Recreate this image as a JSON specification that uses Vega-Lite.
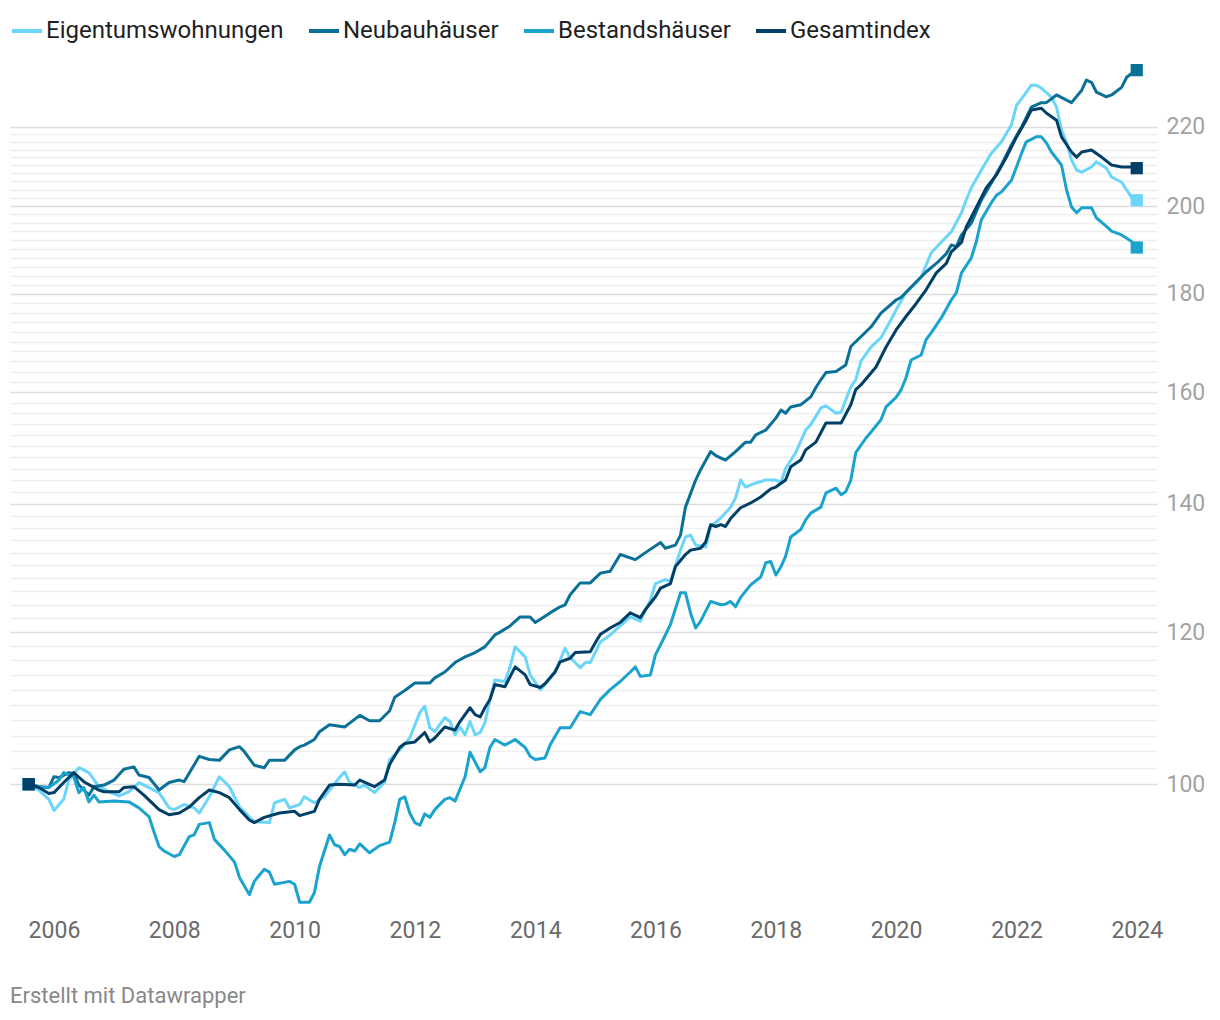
{
"$schema": "https://vega.github.io/schema/vega-lite/v6.json",
"width": 1147, "height": 856,
"autosize": "none",
"padding": {"left": 10, "top": 54, "right": 63, "bottom": 110},
"background": "white",
"config": {"font": "Roboto", "view": {"stroke": null}},
"title": {"text": "Erstellt mit Datawrapper", "orient": "bottom", "anchor": "start", "frame": "group", "fontSize": 22, "fontWeight": "normal", "color": "#888888", "offset": 44, "baseline": "top"},
"data": {"values": [
{"series":"Eigentumswohnungen","date":"2005-08-01","value":100.0},
{"series":"Eigentumswohnungen","date":"2005-10-01","value":99.3},
{"series":"Eigentumswohnungen","date":"2005-12-01","value":98.2},
{"series":"Eigentumswohnungen","date":"2006-01-01","value":96.9},
{"series":"Eigentumswohnungen","date":"2006-03-01","value":98.2},
{"series":"Eigentumswohnungen","date":"2006-04-01","value":100.5},
{"series":"Eigentumswohnungen","date":"2006-06-01","value":102.0},
{"series":"Eigentumswohnungen","date":"2006-08-01","value":101.4},
{"series":"Eigentumswohnungen","date":"2006-10-01","value":99.7},
{"series":"Eigentumswohnungen","date":"2006-12-01","value":99.1},
{"series":"Eigentumswohnungen","date":"2007-02-01","value":98.6},
{"series":"Eigentumswohnungen","date":"2007-04-01","value":99.1},
{"series":"Eigentumswohnungen","date":"2007-06-01","value":100.2},
{"series":"Eigentumswohnungen","date":"2007-08-01","value":99.6},
{"series":"Eigentumswohnungen","date":"2007-10-01","value":99.0},
{"series":"Eigentumswohnungen","date":"2007-12-01","value":97.2},
{"series":"Eigentumswohnungen","date":"2008-01-01","value":97.0},
{"series":"Eigentumswohnungen","date":"2008-03-01","value":97.6},
{"series":"Eigentumswohnungen","date":"2008-05-01","value":97.2},
{"series":"Eigentumswohnungen","date":"2008-06-01","value":96.6},
{"series":"Eigentumswohnungen","date":"2008-08-01","value":98.5},
{"series":"Eigentumswohnungen","date":"2008-10-01","value":100.9},
{"series":"Eigentumswohnungen","date":"2008-12-01","value":99.7},
{"series":"Eigentumswohnungen","date":"2009-02-01","value":97.3},
{"series":"Eigentumswohnungen","date":"2009-05-01","value":95.6},
{"series":"Eigentumswohnungen","date":"2009-08-01","value":95.5},
{"series":"Eigentumswohnungen","date":"2009-09-01","value":97.8},
{"series":"Eigentumswohnungen","date":"2009-11-01","value":98.2},
{"series":"Eigentumswohnungen","date":"2009-12-01","value":97.2},
{"series":"Eigentumswohnungen","date":"2010-02-01","value":97.6},
{"series":"Eigentumswohnungen","date":"2010-03-01","value":98.5},
{"series":"Eigentumswohnungen","date":"2010-05-01","value":97.8},
{"series":"Eigentumswohnungen","date":"2010-07-01","value":98.5},
{"series":"Eigentumswohnungen","date":"2010-08-01","value":99.3},
{"series":"Eigentumswohnungen","date":"2010-10-01","value":100.8},
{"series":"Eigentumswohnungen","date":"2010-11-01","value":101.5},
{"series":"Eigentumswohnungen","date":"2010-12-01","value":100.2},
{"series":"Eigentumswohnungen","date":"2011-02-01","value":99.6},
{"series":"Eigentumswohnungen","date":"2011-03-01","value":99.9},
{"series":"Eigentumswohnungen","date":"2011-05-01","value":99.0},
{"series":"Eigentumswohnungen","date":"2011-07-01","value":100.2},
{"series":"Eigentumswohnungen","date":"2011-08-01","value":103.0},
{"series":"Eigentumswohnungen","date":"2011-10-01","value":104.2},
{"series":"Eigentumswohnungen","date":"2011-12-01","value":105.7},
{"series":"Eigentumswohnungen","date":"2012-02-01","value":109.0},
{"series":"Eigentumswohnungen","date":"2012-03-01","value":109.8},
{"series":"Eigentumswohnungen","date":"2012-04-01","value":107.0},
{"series":"Eigentumswohnungen","date":"2012-05-01","value":106.5},
{"series":"Eigentumswohnungen","date":"2012-07-01","value":108.3},
{"series":"Eigentumswohnungen","date":"2012-08-01","value":107.8},
{"series":"Eigentumswohnungen","date":"2012-09-01","value":106.1},
{"series":"Eigentumswohnungen","date":"2012-10-01","value":107.1},
{"series":"Eigentumswohnungen","date":"2012-11-01","value":106.1},
{"series":"Eigentumswohnungen","date":"2012-12-01","value":107.8},
{"series":"Eigentumswohnungen","date":"2013-01-01","value":106.1},
{"series":"Eigentumswohnungen","date":"2013-02-01","value":106.4},
{"series":"Eigentumswohnungen","date":"2013-03-01","value":107.6},
{"series":"Eigentumswohnungen","date":"2013-04-01","value":110.7},
{"series":"Eigentumswohnungen","date":"2013-05-01","value":113.3},
{"series":"Eigentumswohnungen","date":"2013-07-01","value":113.1},
{"series":"Eigentumswohnungen","date":"2013-08-01","value":115.1},
{"series":"Eigentumswohnungen","date":"2013-09-01","value":117.9},
{"series":"Eigentumswohnungen","date":"2013-11-01","value":116.5},
{"series":"Eigentumswohnungen","date":"2013-12-01","value":114.0},
{"series":"Eigentumswohnungen","date":"2014-02-01","value":112.0},
{"series":"Eigentumswohnungen","date":"2014-03-01","value":112.7},
{"series":"Eigentumswohnungen","date":"2014-05-01","value":114.4},
{"series":"Eigentumswohnungen","date":"2014-07-01","value":117.7},
{"series":"Eigentumswohnungen","date":"2014-08-01","value":116.4},
{"series":"Eigentumswohnungen","date":"2014-10-01","value":115.0},
{"series":"Eigentumswohnungen","date":"2014-11-01","value":115.7},
{"series":"Eigentumswohnungen","date":"2014-12-01","value":115.7},
{"series":"Eigentumswohnungen","date":"2015-02-01","value":118.6},
{"series":"Eigentumswohnungen","date":"2015-04-01","value":119.6},
{"series":"Eigentumswohnungen","date":"2015-06-01","value":120.9},
{"series":"Eigentumswohnungen","date":"2015-08-01","value":122.2},
{"series":"Eigentumswohnungen","date":"2015-10-01","value":121.6},
{"series":"Eigentumswohnungen","date":"2015-12-01","value":124.7},
{"series":"Eigentumswohnungen","date":"2016-01-01","value":127.2},
{"series":"Eigentumswohnungen","date":"2016-03-01","value":127.8},
{"series":"Eigentumswohnungen","date":"2016-04-01","value":127.5},
{"series":"Eigentumswohnungen","date":"2016-06-01","value":132.4},
{"series":"Eigentumswohnungen","date":"2016-07-01","value":134.5},
{"series":"Eigentumswohnungen","date":"2016-08-01","value":134.8},
{"series":"Eigentumswohnungen","date":"2016-09-01","value":133.2},
{"series":"Eigentumswohnungen","date":"2016-11-01","value":132.9},
{"series":"Eigentumswohnungen","date":"2016-12-01","value":136.2},
{"series":"Eigentumswohnungen","date":"2017-02-01","value":137.6},
{"series":"Eigentumswohnungen","date":"2017-04-01","value":139.4},
{"series":"Eigentumswohnungen","date":"2017-05-01","value":140.9},
{"series":"Eigentumswohnungen","date":"2017-06-01","value":144.0},
{"series":"Eigentumswohnungen","date":"2017-07-01","value":142.8},
{"series":"Eigentumswohnungen","date":"2017-09-01","value":143.5},
{"series":"Eigentumswohnungen","date":"2017-11-01","value":144.0},
{"series":"Eigentumswohnungen","date":"2018-01-01","value":144.0},
{"series":"Eigentumswohnungen","date":"2018-02-01","value":143.6},
{"series":"Eigentumswohnungen","date":"2018-03-01","value":146.0},
{"series":"Eigentumswohnungen","date":"2018-05-01","value":148.8},
{"series":"Eigentumswohnungen","date":"2018-07-01","value":152.9},
{"series":"Eigentumswohnungen","date":"2018-08-01","value":153.9},
{"series":"Eigentumswohnungen","date":"2018-10-01","value":157.0},
{"series":"Eigentumswohnungen","date":"2018-11-01","value":157.4},
{"series":"Eigentumswohnungen","date":"2019-01-01","value":156.0},
{"series":"Eigentumswohnungen","date":"2019-02-01","value":156.2},
{"series":"Eigentumswohnungen","date":"2019-03-01","value":158.5},
{"series":"Eigentumswohnungen","date":"2019-04-01","value":161.0},
{"series":"Eigentumswohnungen","date":"2019-05-01","value":162.4},
{"series":"Eigentumswohnungen","date":"2019-06-01","value":166.0},
{"series":"Eigentumswohnungen","date":"2019-08-01","value":168.9},
{"series":"Eigentumswohnungen","date":"2019-10-01","value":170.8},
{"series":"Eigentumswohnungen","date":"2019-12-01","value":174.5},
{"series":"Eigentumswohnungen","date":"2020-01-01","value":176.6},
{"series":"Eigentumswohnungen","date":"2020-03-01","value":180.3},
{"series":"Eigentumswohnungen","date":"2020-05-01","value":182.4},
{"series":"Eigentumswohnungen","date":"2020-06-01","value":183.7},
{"series":"Eigentumswohnungen","date":"2020-08-01","value":189.1},
{"series":"Eigentumswohnungen","date":"2020-10-01","value":191.5},
{"series":"Eigentumswohnungen","date":"2020-12-01","value":193.9},
{"series":"Eigentumswohnungen","date":"2021-02-01","value":198.4},
{"series":"Eigentumswohnungen","date":"2021-03-01","value":201.4},
{"series":"Eigentumswohnungen","date":"2021-04-01","value":204.4},
{"series":"Eigentumswohnungen","date":"2021-06-01","value":208.8},
{"series":"Eigentumswohnungen","date":"2021-08-01","value":213.1},
{"series":"Eigentumswohnungen","date":"2021-10-01","value":216.0},
{"series":"Eigentumswohnungen","date":"2021-12-01","value":220.4},
{"series":"Eigentumswohnungen","date":"2022-01-01","value":225.7},
{"series":"Eigentumswohnungen","date":"2022-03-01","value":229.2},
{"series":"Eigentumswohnungen","date":"2022-04-01","value":231.2},
{"series":"Eigentumswohnungen","date":"2022-05-01","value":231.2},
{"series":"Eigentumswohnungen","date":"2022-06-01","value":230.4},
{"series":"Eigentumswohnungen","date":"2022-08-01","value":227.9},
{"series":"Eigentumswohnungen","date":"2022-09-01","value":225.2},
{"series":"Eigentumswohnungen","date":"2022-10-01","value":219.1},
{"series":"Eigentumswohnungen","date":"2022-11-01","value":215.8},
{"series":"Eigentumswohnungen","date":"2022-12-01","value":211.4},
{"series":"Eigentumswohnungen","date":"2023-01-01","value":208.8},
{"series":"Eigentumswohnungen","date":"2023-02-01","value":208.3},
{"series":"Eigentumswohnungen","date":"2023-04-01","value":209.6},
{"series":"Eigentumswohnungen","date":"2023-05-01","value":210.9},
{"series":"Eigentumswohnungen","date":"2023-07-01","value":209.3},
{"series":"Eigentumswohnungen","date":"2023-08-01","value":207.1},
{"series":"Eigentumswohnungen","date":"2023-10-01","value":205.8},
{"series":"Eigentumswohnungen","date":"2023-11-01","value":203.9},
{"series":"Eigentumswohnungen","date":"2023-12-01","value":202.1},
{"series":"Eigentumswohnungen","date":"2024-01-01","value":201.4},
{"series":"Neubauhäuser","date":"2005-08-01","value":100.0},
{"series":"Neubauhäuser","date":"2005-10-01","value":99.7},
{"series":"Neubauhäuser","date":"2005-12-01","value":99.6},
{"series":"Neubauhäuser","date":"2006-01-01","value":100.9},
{"series":"Neubauhäuser","date":"2006-02-01","value":100.8},
{"series":"Neubauhäuser","date":"2006-04-01","value":101.4},
{"series":"Neubauhäuser","date":"2006-05-01","value":101.3},
{"series":"Neubauhäuser","date":"2006-06-01","value":99.9},
{"series":"Neubauhäuser","date":"2006-08-01","value":98.7},
{"series":"Neubauhäuser","date":"2006-09-01","value":99.7},
{"series":"Neubauhäuser","date":"2006-11-01","value":99.9},
{"series":"Neubauhäuser","date":"2007-01-01","value":100.5},
{"series":"Neubauhäuser","date":"2007-03-01","value":101.8},
{"series":"Neubauhäuser","date":"2007-05-01","value":102.1},
{"series":"Neubauhäuser","date":"2007-06-01","value":101.1},
{"series":"Neubauhäuser","date":"2007-08-01","value":100.8},
{"series":"Neubauhäuser","date":"2007-10-01","value":99.3},
{"series":"Neubauhäuser","date":"2007-12-01","value":100.2},
{"series":"Neubauhäuser","date":"2008-02-01","value":100.5},
{"series":"Neubauhäuser","date":"2008-03-01","value":100.3},
{"series":"Neubauhäuser","date":"2008-06-01","value":103.4},
{"series":"Neubauhäuser","date":"2008-08-01","value":103.0},
{"series":"Neubauhäuser","date":"2008-10-01","value":102.9},
{"series":"Neubauhäuser","date":"2008-12-01","value":104.2},
{"series":"Neubauhäuser","date":"2009-02-01","value":104.6},
{"series":"Neubauhäuser","date":"2009-03-01","value":104.0},
{"series":"Neubauhäuser","date":"2009-05-01","value":102.3},
{"series":"Neubauhäuser","date":"2009-07-01","value":102.0},
{"series":"Neubauhäuser","date":"2009-08-01","value":102.9},
{"series":"Neubauhäuser","date":"2009-11-01","value":102.9},
{"series":"Neubauhäuser","date":"2010-01-01","value":104.2},
{"series":"Neubauhäuser","date":"2010-02-01","value":104.6},
{"series":"Neubauhäuser","date":"2010-03-01","value":104.8},
{"series":"Neubauhäuser","date":"2010-05-01","value":105.5},
{"series":"Neubauhäuser","date":"2010-06-01","value":106.5},
{"series":"Neubauhäuser","date":"2010-08-01","value":107.4},
{"series":"Neubauhäuser","date":"2010-11-01","value":107.1},
{"series":"Neubauhäuser","date":"2010-12-01","value":107.6},
{"series":"Neubauhäuser","date":"2011-02-01","value":108.6},
{"series":"Neubauhäuser","date":"2011-04-01","value":107.9},
{"series":"Neubauhäuser","date":"2011-06-01","value":107.9},
{"series":"Neubauhäuser","date":"2011-08-01","value":109.2},
{"series":"Neubauhäuser","date":"2011-09-01","value":111.0},
{"series":"Neubauhäuser","date":"2011-11-01","value":111.9},
{"series":"Neubauhäuser","date":"2012-01-01","value":112.9},
{"series":"Neubauhäuser","date":"2012-04-01","value":112.9},
{"series":"Neubauhäuser","date":"2012-05-01","value":113.6},
{"series":"Neubauhäuser","date":"2012-07-01","value":114.4},
{"series":"Neubauhäuser","date":"2012-09-01","value":115.7},
{"series":"Neubauhäuser","date":"2012-11-01","value":116.5},
{"series":"Neubauhäuser","date":"2013-01-01","value":117.1},
{"series":"Neubauhäuser","date":"2013-03-01","value":117.9},
{"series":"Neubauhäuser","date":"2013-05-01","value":119.6},
{"series":"Neubauhäuser","date":"2013-06-01","value":120.0},
{"series":"Neubauhäuser","date":"2013-08-01","value":120.9},
{"series":"Neubauhäuser","date":"2013-10-01","value":122.2},
{"series":"Neubauhäuser","date":"2013-12-01","value":122.2},
{"series":"Neubauhäuser","date":"2014-01-01","value":121.4},
{"series":"Neubauhäuser","date":"2014-04-01","value":122.8},
{"series":"Neubauhäuser","date":"2014-06-01","value":123.7},
{"series":"Neubauhäuser","date":"2014-07-01","value":124.0},
{"series":"Neubauhäuser","date":"2014-08-01","value":125.5},
{"series":"Neubauhäuser","date":"2014-10-01","value":127.3},
{"series":"Neubauhäuser","date":"2014-12-01","value":127.3},
{"series":"Neubauhäuser","date":"2015-02-01","value":128.8},
{"series":"Neubauhäuser","date":"2015-04-01","value":129.1},
{"series":"Neubauhäuser","date":"2015-06-01","value":131.7},
{"series":"Neubauhäuser","date":"2015-09-01","value":130.9},
{"series":"Neubauhäuser","date":"2015-11-01","value":132.0},
{"series":"Neubauhäuser","date":"2016-02-01","value":133.6},
{"series":"Neubauhäuser","date":"2016-03-01","value":132.7},
{"series":"Neubauhäuser","date":"2016-05-01","value":133.2},
{"series":"Neubauhäuser","date":"2016-06-01","value":134.8},
{"series":"Neubauhäuser","date":"2016-07-01","value":139.4},
{"series":"Neubauhäuser","date":"2016-09-01","value":144.0},
{"series":"Neubauhäuser","date":"2016-10-01","value":145.8},
{"series":"Neubauhäuser","date":"2016-12-01","value":149.0},
{"series":"Neubauhäuser","date":"2017-01-01","value":148.3},
{"series":"Neubauhäuser","date":"2017-03-01","value":147.5},
{"series":"Neubauhäuser","date":"2017-05-01","value":149.0},
{"series":"Neubauhäuser","date":"2017-07-01","value":150.7},
{"series":"Neubauhäuser","date":"2017-08-01","value":150.7},
{"series":"Neubauhäuser","date":"2017-09-01","value":152.0},
{"series":"Neubauhäuser","date":"2017-11-01","value":152.9},
{"series":"Neubauhäuser","date":"2018-01-01","value":155.1},
{"series":"Neubauhäuser","date":"2018-02-01","value":156.6},
{"series":"Neubauhäuser","date":"2018-03-01","value":156.0},
{"series":"Neubauhäuser","date":"2018-04-01","value":157.2},
{"series":"Neubauhäuser","date":"2018-06-01","value":157.6},
{"series":"Neubauhäuser","date":"2018-08-01","value":159.1},
{"series":"Neubauhäuser","date":"2018-09-01","value":160.9},
{"series":"Neubauhäuser","date":"2018-10-01","value":162.4},
{"series":"Neubauhäuser","date":"2018-11-01","value":163.8},
{"series":"Neubauhäuser","date":"2019-01-01","value":164.0},
{"series":"Neubauhäuser","date":"2019-03-01","value":165.3},
{"series":"Neubauhäuser","date":"2019-04-01","value":169.0},
{"series":"Neubauhäuser","date":"2019-06-01","value":171.0},
{"series":"Neubauhäuser","date":"2019-08-01","value":173.0},
{"series":"Neubauhäuser","date":"2019-10-01","value":175.9},
{"series":"Neubauhäuser","date":"2020-01-01","value":178.7},
{"series":"Neubauhäuser","date":"2020-02-01","value":179.3},
{"series":"Neubauhäuser","date":"2020-05-01","value":182.6},
{"series":"Neubauhäuser","date":"2020-07-01","value":184.8},
{"series":"Neubauhäuser","date":"2020-09-01","value":186.7},
{"series":"Neubauhäuser","date":"2020-11-01","value":188.9},
{"series":"Neubauhäuser","date":"2020-12-01","value":190.9},
{"series":"Neubauhäuser","date":"2021-01-01","value":190.5},
{"series":"Neubauhäuser","date":"2021-02-01","value":193.2},
{"series":"Neubauhäuser","date":"2021-04-01","value":195.9},
{"series":"Neubauhäuser","date":"2021-06-01","value":201.4},
{"series":"Neubauhäuser","date":"2021-08-01","value":205.6},
{"series":"Neubauhäuser","date":"2021-10-01","value":210.1},
{"series":"Neubauhäuser","date":"2021-12-01","value":215.2},
{"series":"Neubauhäuser","date":"2022-02-01","value":219.9},
{"series":"Neubauhäuser","date":"2022-04-01","value":225.2},
{"series":"Neubauhäuser","date":"2022-06-01","value":226.4},
{"series":"Neubauhäuser","date":"2022-07-01","value":226.4},
{"series":"Neubauhäuser","date":"2022-09-01","value":228.5},
{"series":"Neubauhäuser","date":"2022-11-01","value":227.1},
{"series":"Neubauhäuser","date":"2022-12-01","value":226.4},
{"series":"Neubauhäuser","date":"2023-02-01","value":229.8},
{"series":"Neubauhäuser","date":"2023-03-01","value":232.6},
{"series":"Neubauhäuser","date":"2023-04-01","value":232.0},
{"series":"Neubauhäuser","date":"2023-05-01","value":229.3},
{"series":"Neubauhäuser","date":"2023-07-01","value":228.0},
{"series":"Neubauhäuser","date":"2023-08-01","value":228.5},
{"series":"Neubauhäuser","date":"2023-10-01","value":230.6},
{"series":"Neubauhäuser","date":"2023-11-01","value":233.4},
{"series":"Neubauhäuser","date":"2023-12-01","value":234.5},
{"series":"Neubauhäuser","date":"2024-01-01","value":235.4},
{"series":"Bestandshäuser","date":"2005-08-01","value":100.0},
{"series":"Bestandshäuser","date":"2005-10-01","value":99.7},
{"series":"Bestandshäuser","date":"2005-12-01","value":99.6},
{"series":"Bestandshäuser","date":"2006-02-01","value":100.5},
{"series":"Bestandshäuser","date":"2006-03-01","value":101.4},
{"series":"Bestandshäuser","date":"2006-05-01","value":100.9},
{"series":"Bestandshäuser","date":"2006-06-01","value":99.0},
{"series":"Bestandshäuser","date":"2006-07-01","value":99.6},
{"series":"Bestandshäuser","date":"2006-08-01","value":97.9},
{"series":"Bestandshäuser","date":"2006-09-01","value":98.7},
{"series":"Bestandshäuser","date":"2006-10-01","value":97.9},
{"series":"Bestandshäuser","date":"2007-01-01","value":98.0},
{"series":"Bestandshäuser","date":"2007-04-01","value":97.9},
{"series":"Bestandshäuser","date":"2007-06-01","value":97.2},
{"series":"Bestandshäuser","date":"2007-08-01","value":96.2},
{"series":"Bestandshäuser","date":"2007-09-01","value":94.4},
{"series":"Bestandshäuser","date":"2007-10-01","value":92.8},
{"series":"Bestandshäuser","date":"2007-11-01","value":92.3},
{"series":"Bestandshäuser","date":"2008-01-01","value":91.7},
{"series":"Bestandshäuser","date":"2008-02-01","value":91.9},
{"series":"Bestandshäuser","date":"2008-04-01","value":93.9},
{"series":"Bestandshäuser","date":"2008-05-01","value":94.1},
{"series":"Bestandshäuser","date":"2008-06-01","value":95.3},
{"series":"Bestandshäuser","date":"2008-08-01","value":95.5},
{"series":"Bestandshäuser","date":"2008-09-01","value":93.6},
{"series":"Bestandshäuser","date":"2008-11-01","value":92.4},
{"series":"Bestandshäuser","date":"2009-01-01","value":91.1},
{"series":"Bestandshäuser","date":"2009-02-01","value":89.4},
{"series":"Bestandshäuser","date":"2009-04-01","value":87.6},
{"series":"Bestandshäuser","date":"2009-05-01","value":89.0},
{"series":"Bestandshäuser","date":"2009-07-01","value":90.3},
{"series":"Bestandshäuser","date":"2009-08-01","value":90.0},
{"series":"Bestandshäuser","date":"2009-09-01","value":88.7},
{"series":"Bestandshäuser","date":"2009-12-01","value":89.0},
{"series":"Bestandshäuser","date":"2010-01-01","value":88.7},
{"series":"Bestandshäuser","date":"2010-02-01","value":86.8},
{"series":"Bestandshäuser","date":"2010-04-01","value":86.8},
{"series":"Bestandshäuser","date":"2010-05-01","value":87.8},
{"series":"Bestandshäuser","date":"2010-06-01","value":90.6},
{"series":"Bestandshäuser","date":"2010-08-01","value":94.1},
{"series":"Bestandshäuser","date":"2010-09-01","value":93.0},
{"series":"Bestandshäuser","date":"2010-10-01","value":92.8},
{"series":"Bestandshäuser","date":"2010-11-01","value":91.9},
{"series":"Bestandshäuser","date":"2010-12-01","value":92.5},
{"series":"Bestandshäuser","date":"2011-01-01","value":92.3},
{"series":"Bestandshäuser","date":"2011-02-01","value":93.1},
{"series":"Bestandshäuser","date":"2011-04-01","value":92.1},
{"series":"Bestandshäuser","date":"2011-06-01","value":92.9},
{"series":"Bestandshäuser","date":"2011-08-01","value":93.3},
{"series":"Bestandshäuser","date":"2011-09-01","value":95.5},
{"series":"Bestandshäuser","date":"2011-10-01","value":98.2},
{"series":"Bestandshäuser","date":"2011-11-01","value":98.5},
{"series":"Bestandshäuser","date":"2011-12-01","value":96.6},
{"series":"Bestandshäuser","date":"2012-01-01","value":95.5},
{"series":"Bestandshäuser","date":"2012-02-01","value":95.2},
{"series":"Bestandshäuser","date":"2012-03-01","value":96.5},
{"series":"Bestandshäuser","date":"2012-04-01","value":96.1},
{"series":"Bestandshäuser","date":"2012-05-01","value":97.0},
{"series":"Bestandshäuser","date":"2012-07-01","value":98.2},
{"series":"Bestandshäuser","date":"2012-08-01","value":98.4},
{"series":"Bestandshäuser","date":"2012-09-01","value":98.0},
{"series":"Bestandshäuser","date":"2012-11-01","value":100.9},
{"series":"Bestandshäuser","date":"2012-12-01","value":103.9},
{"series":"Bestandshäuser","date":"2013-02-01","value":101.5},
{"series":"Bestandshäuser","date":"2013-03-01","value":102.0},
{"series":"Bestandshäuser","date":"2013-04-01","value":104.5},
{"series":"Bestandshäuser","date":"2013-05-01","value":105.5},
{"series":"Bestandshäuser","date":"2013-07-01","value":104.8},
{"series":"Bestandshäuser","date":"2013-09-01","value":105.5},
{"series":"Bestandshäuser","date":"2013-11-01","value":104.5},
{"series":"Bestandshäuser","date":"2013-12-01","value":103.4},
{"series":"Bestandshäuser","date":"2014-01-01","value":103.0},
{"series":"Bestandshäuser","date":"2014-03-01","value":103.2},
{"series":"Bestandshäuser","date":"2014-04-01","value":104.8},
{"series":"Bestandshäuser","date":"2014-06-01","value":107.0},
{"series":"Bestandshäuser","date":"2014-08-01","value":107.0},
{"series":"Bestandshäuser","date":"2014-10-01","value":109.1},
{"series":"Bestandshäuser","date":"2014-12-01","value":108.7},
{"series":"Bestandshäuser","date":"2015-02-01","value":110.7},
{"series":"Bestandshäuser","date":"2015-04-01","value":112.0},
{"series":"Bestandshäuser","date":"2015-06-01","value":113.1},
{"series":"Bestandshäuser","date":"2015-08-01","value":114.4},
{"series":"Bestandshäuser","date":"2015-09-01","value":115.1},
{"series":"Bestandshäuser","date":"2015-10-01","value":113.8},
{"series":"Bestandshäuser","date":"2015-12-01","value":114.0},
{"series":"Bestandshäuser","date":"2016-01-01","value":116.8},
{"series":"Bestandshäuser","date":"2016-02-01","value":118.2},
{"series":"Bestandshäuser","date":"2016-04-01","value":121.1},
{"series":"Bestandshäuser","date":"2016-06-01","value":125.8},
{"series":"Bestandshäuser","date":"2016-07-01","value":125.8},
{"series":"Bestandshäuser","date":"2016-08-01","value":122.8},
{"series":"Bestandshäuser","date":"2016-09-01","value":120.6},
{"series":"Bestandshäuser","date":"2016-10-01","value":121.6},
{"series":"Bestandshäuser","date":"2016-12-01","value":124.5},
{"series":"Bestandshäuser","date":"2017-02-01","value":124.0},
{"series":"Bestandshäuser","date":"2017-03-01","value":124.1},
{"series":"Bestandshäuser","date":"2017-04-01","value":124.5},
{"series":"Bestandshäuser","date":"2017-05-01","value":123.7},
{"series":"Bestandshäuser","date":"2017-06-01","value":125.1},
{"series":"Bestandshäuser","date":"2017-08-01","value":127.0},
{"series":"Bestandshäuser","date":"2017-10-01","value":128.2},
{"series":"Bestandshäuser","date":"2017-11-01","value":130.4},
{"series":"Bestandshäuser","date":"2017-12-01","value":130.6},
{"series":"Bestandshäuser","date":"2018-01-01","value":128.5},
{"series":"Bestandshäuser","date":"2018-02-01","value":129.8},
{"series":"Bestandshäuser","date":"2018-03-01","value":131.4},
{"series":"Bestandshäuser","date":"2018-04-01","value":134.5},
{"series":"Bestandshäuser","date":"2018-06-01","value":135.7},
{"series":"Bestandshäuser","date":"2018-07-01","value":137.3},
{"series":"Bestandshäuser","date":"2018-08-01","value":138.4},
{"series":"Bestandshäuser","date":"2018-10-01","value":139.4},
{"series":"Bestandshäuser","date":"2018-11-01","value":141.8},
{"series":"Bestandshäuser","date":"2019-01-01","value":142.6},
{"series":"Bestandshäuser","date":"2019-02-01","value":141.5},
{"series":"Bestandshäuser","date":"2019-03-01","value":142.0},
{"series":"Bestandshäuser","date":"2019-04-01","value":144.0},
{"series":"Bestandshäuser","date":"2019-05-01","value":148.8},
{"series":"Bestandshäuser","date":"2019-07-01","value":151.4},
{"series":"Bestandshäuser","date":"2019-08-01","value":152.5},
{"series":"Bestandshäuser","date":"2019-10-01","value":154.8},
{"series":"Bestandshäuser","date":"2019-11-01","value":157.2},
{"series":"Bestandshäuser","date":"2020-01-01","value":159.0},
{"series":"Bestandshäuser","date":"2020-02-01","value":160.5},
{"series":"Bestandshäuser","date":"2020-03-01","value":162.8},
{"series":"Bestandshäuser","date":"2020-04-01","value":166.3},
{"series":"Bestandshäuser","date":"2020-06-01","value":167.3},
{"series":"Bestandshäuser","date":"2020-07-01","value":170.4},
{"series":"Bestandshäuser","date":"2020-08-01","value":171.8},
{"series":"Bestandshäuser","date":"2020-10-01","value":174.9},
{"series":"Bestandshäuser","date":"2020-12-01","value":178.7},
{"series":"Bestandshäuser","date":"2021-01-01","value":180.3},
{"series":"Bestandshäuser","date":"2021-02-01","value":184.6},
{"series":"Bestandshäuser","date":"2021-04-01","value":187.9},
{"series":"Bestandshäuser","date":"2021-05-01","value":191.5},
{"series":"Bestandshäuser","date":"2021-06-01","value":196.7},
{"series":"Bestandshäuser","date":"2021-08-01","value":200.8},
{"series":"Bestandshäuser","date":"2021-09-01","value":202.6},
{"series":"Bestandshäuser","date":"2021-10-01","value":203.4},
{"series":"Bestandshäuser","date":"2021-12-01","value":206.3},
{"series":"Bestandshäuser","date":"2022-01-01","value":209.6},
{"series":"Bestandshäuser","date":"2022-02-01","value":213.1},
{"series":"Bestandshäuser","date":"2022-03-01","value":216.0},
{"series":"Bestandshäuser","date":"2022-05-01","value":217.3},
{"series":"Bestandshäuser","date":"2022-06-01","value":217.3},
{"series":"Bestandshäuser","date":"2022-07-01","value":215.8},
{"series":"Bestandshäuser","date":"2022-08-01","value":213.4},
{"series":"Bestandshäuser","date":"2022-10-01","value":210.1},
{"series":"Bestandshäuser","date":"2022-11-01","value":203.9},
{"series":"Bestandshäuser","date":"2022-12-01","value":199.8},
{"series":"Bestandshäuser","date":"2023-01-01","value":198.4},
{"series":"Bestandshäuser","date":"2023-02-01","value":199.6},
{"series":"Bestandshäuser","date":"2023-04-01","value":199.6},
{"series":"Bestandshäuser","date":"2023-05-01","value":197.2},
{"series":"Bestandshäuser","date":"2023-07-01","value":195.2},
{"series":"Bestandshäuser","date":"2023-08-01","value":194.1},
{"series":"Bestandshäuser","date":"2023-10-01","value":193.2},
{"series":"Bestandshäuser","date":"2023-12-01","value":191.7},
{"series":"Bestandshäuser","date":"2024-01-01","value":190.3},
{"series":"Gesamtindex","date":"2005-08-01","value":100.0},
{"series":"Gesamtindex","date":"2005-10-01","value":99.6},
{"series":"Gesamtindex","date":"2005-12-01","value":98.9},
{"series":"Gesamtindex","date":"2006-01-01","value":99.0},
{"series":"Gesamtindex","date":"2006-03-01","value":100.2},
{"series":"Gesamtindex","date":"2006-05-01","value":101.4},
{"series":"Gesamtindex","date":"2006-07-01","value":100.3},
{"series":"Gesamtindex","date":"2006-10-01","value":99.3},
{"series":"Gesamtindex","date":"2006-11-01","value":99.1},
{"series":"Gesamtindex","date":"2007-02-01","value":99.1},
{"series":"Gesamtindex","date":"2007-03-01","value":99.6},
{"series":"Gesamtindex","date":"2007-05-01","value":99.7},
{"series":"Gesamtindex","date":"2007-07-01","value":98.7},
{"series":"Gesamtindex","date":"2007-10-01","value":97.0},
{"series":"Gesamtindex","date":"2007-12-01","value":96.4},
{"series":"Gesamtindex","date":"2008-02-01","value":96.6},
{"series":"Gesamtindex","date":"2008-04-01","value":97.3},
{"series":"Gesamtindex","date":"2008-06-01","value":98.4},
{"series":"Gesamtindex","date":"2008-08-01","value":99.3},
{"series":"Gesamtindex","date":"2008-10-01","value":99.0},
{"series":"Gesamtindex","date":"2008-12-01","value":98.4},
{"series":"Gesamtindex","date":"2009-02-01","value":97.0},
{"series":"Gesamtindex","date":"2009-04-01","value":95.8},
{"series":"Gesamtindex","date":"2009-05-01","value":95.5},
{"series":"Gesamtindex","date":"2009-07-01","value":96.1},
{"series":"Gesamtindex","date":"2009-10-01","value":96.6},
{"series":"Gesamtindex","date":"2010-01-01","value":96.8},
{"series":"Gesamtindex","date":"2010-02-01","value":96.3},
{"series":"Gesamtindex","date":"2010-05-01","value":96.8},
{"series":"Gesamtindex","date":"2010-06-01","value":98.2},
{"series":"Gesamtindex","date":"2010-08-01","value":99.9},
{"series":"Gesamtindex","date":"2010-10-01","value":100.0},
{"series":"Gesamtindex","date":"2011-01-01","value":99.9},
{"series":"Gesamtindex","date":"2011-02-01","value":100.5},
{"series":"Gesamtindex","date":"2011-05-01","value":99.7},
{"series":"Gesamtindex","date":"2011-07-01","value":100.5},
{"series":"Gesamtindex","date":"2011-08-01","value":102.4},
{"series":"Gesamtindex","date":"2011-10-01","value":104.5},
{"series":"Gesamtindex","date":"2011-11-01","value":105.0},
{"series":"Gesamtindex","date":"2012-01-01","value":105.2},
{"series":"Gesamtindex","date":"2012-03-01","value":106.4},
{"series":"Gesamtindex","date":"2012-04-01","value":105.2},
{"series":"Gesamtindex","date":"2012-05-01","value":105.7},
{"series":"Gesamtindex","date":"2012-07-01","value":107.1},
{"series":"Gesamtindex","date":"2012-09-01","value":106.7},
{"series":"Gesamtindex","date":"2012-10-01","value":107.8},
{"series":"Gesamtindex","date":"2012-12-01","value":109.6},
{"series":"Gesamtindex","date":"2013-01-01","value":108.7},
{"series":"Gesamtindex","date":"2013-02-01","value":108.4},
{"series":"Gesamtindex","date":"2013-03-01","value":109.6},
{"series":"Gesamtindex","date":"2013-04-01","value":110.7},
{"series":"Gesamtindex","date":"2013-05-01","value":112.7},
{"series":"Gesamtindex","date":"2013-07-01","value":112.4},
{"series":"Gesamtindex","date":"2013-09-01","value":115.1},
{"series":"Gesamtindex","date":"2013-11-01","value":114.0},
{"series":"Gesamtindex","date":"2013-12-01","value":112.7},
{"series":"Gesamtindex","date":"2014-02-01","value":112.3},
{"series":"Gesamtindex","date":"2014-03-01","value":112.8},
{"series":"Gesamtindex","date":"2014-05-01","value":114.4},
{"series":"Gesamtindex","date":"2014-06-01","value":115.8},
{"series":"Gesamtindex","date":"2014-08-01","value":116.3},
{"series":"Gesamtindex","date":"2014-09-01","value":117.1},
{"series":"Gesamtindex","date":"2014-12-01","value":117.2},
{"series":"Gesamtindex","date":"2015-01-01","value":118.5},
{"series":"Gesamtindex","date":"2015-02-01","value":119.7},
{"series":"Gesamtindex","date":"2015-04-01","value":120.6},
{"series":"Gesamtindex","date":"2015-06-01","value":121.4},
{"series":"Gesamtindex","date":"2015-08-01","value":122.8},
{"series":"Gesamtindex","date":"2015-10-01","value":122.1},
{"series":"Gesamtindex","date":"2015-11-01","value":123.3},
{"series":"Gesamtindex","date":"2016-01-01","value":125.2},
{"series":"Gesamtindex","date":"2016-02-01","value":126.5},
{"series":"Gesamtindex","date":"2016-04-01","value":127.2},
{"series":"Gesamtindex","date":"2016-05-01","value":129.8},
{"series":"Gesamtindex","date":"2016-07-01","value":131.7},
{"series":"Gesamtindex","date":"2016-08-01","value":132.4},
{"series":"Gesamtindex","date":"2016-10-01","value":132.7},
{"series":"Gesamtindex","date":"2016-11-01","value":133.7},
{"series":"Gesamtindex","date":"2016-12-01","value":136.5},
{"series":"Gesamtindex","date":"2017-01-01","value":136.2},
{"series":"Gesamtindex","date":"2017-02-01","value":136.5},
{"series":"Gesamtindex","date":"2017-03-01","value":136.2},
{"series":"Gesamtindex","date":"2017-04-01","value":137.5},
{"series":"Gesamtindex","date":"2017-06-01","value":139.3},
{"series":"Gesamtindex","date":"2017-08-01","value":140.1},
{"series":"Gesamtindex","date":"2017-10-01","value":141.1},
{"series":"Gesamtindex","date":"2017-12-01","value":142.5},
{"series":"Gesamtindex","date":"2018-01-01","value":142.8},
{"series":"Gesamtindex","date":"2018-03-01","value":144.0},
{"series":"Gesamtindex","date":"2018-04-01","value":146.3},
{"series":"Gesamtindex","date":"2018-06-01","value":147.5},
{"series":"Gesamtindex","date":"2018-07-01","value":149.3},
{"series":"Gesamtindex","date":"2018-09-01","value":150.7},
{"series":"Gesamtindex","date":"2018-11-01","value":154.2},
{"series":"Gesamtindex","date":"2018-12-01","value":154.2},
{"series":"Gesamtindex","date":"2019-02-01","value":154.2},
{"series":"Gesamtindex","date":"2019-04-01","value":157.6},
{"series":"Gesamtindex","date":"2019-05-01","value":160.5},
{"series":"Gesamtindex","date":"2019-06-01","value":161.4},
{"series":"Gesamtindex","date":"2019-09-01","value":164.9},
{"series":"Gesamtindex","date":"2019-11-01","value":168.9},
{"series":"Gesamtindex","date":"2020-01-01","value":172.4},
{"series":"Gesamtindex","date":"2020-03-01","value":175.2},
{"series":"Gesamtindex","date":"2020-05-01","value":177.9},
{"series":"Gesamtindex","date":"2020-07-01","value":180.9},
{"series":"Gesamtindex","date":"2020-09-01","value":184.6},
{"series":"Gesamtindex","date":"2020-11-01","value":186.7},
{"series":"Gesamtindex","date":"2020-12-01","value":189.3},
{"series":"Gesamtindex","date":"2021-02-01","value":191.5},
{"series":"Gesamtindex","date":"2021-03-01","value":195.0},
{"series":"Gesamtindex","date":"2021-05-01","value":199.6},
{"series":"Gesamtindex","date":"2021-07-01","value":204.4},
{"series":"Gesamtindex","date":"2021-09-01","value":207.6},
{"series":"Gesamtindex","date":"2021-11-01","value":212.1},
{"series":"Gesamtindex","date":"2022-01-01","value":217.3},
{"series":"Gesamtindex","date":"2022-03-01","value":221.7},
{"series":"Gesamtindex","date":"2022-04-01","value":224.4},
{"series":"Gesamtindex","date":"2022-06-01","value":224.9},
{"series":"Gesamtindex","date":"2022-07-01","value":223.6},
{"series":"Gesamtindex","date":"2022-09-01","value":221.7},
{"series":"Gesamtindex","date":"2022-10-01","value":217.3},
{"series":"Gesamtindex","date":"2022-12-01","value":213.4},
{"series":"Gesamtindex","date":"2023-01-01","value":212.1},
{"series":"Gesamtindex","date":"2023-02-01","value":213.4},
{"series":"Gesamtindex","date":"2023-04-01","value":213.9},
{"series":"Gesamtindex","date":"2023-06-01","value":212.1},
{"series":"Gesamtindex","date":"2023-08-01","value":210.1},
{"series":"Gesamtindex","date":"2023-10-01","value":209.6},
{"series":"Gesamtindex","date":"2023-12-01","value":209.6},
{"series":"Gesamtindex","date":"2024-01-01","value":209.3}
]},
"encoding": {
  "x": {"field": "date", "type": "temporal",
    "scale": {"domain": [{"year": 2005, "month": 4, "date": 9}, {"year": 2024, "month": 5, "date": 3}]},
    "axis": {"title": null, "format": "%Y", "tickCount": {"interval": "year", "step": 2}, "grid": false, "domain": false, "ticks": false, "labelFontSize": 23, "labelColor": "#6a6a6a", "labelPadding": 9, "labelFlush": false, "labelOverlap": false}},
  "y": {"field": "value", "type": "quantitative",
    "scale": {"type": "log", "domain": [86, 240], "nice": false, "zero": false},
    "axis": {"title": null, "orient": "right", "values": [100,102,104,106,108,110,112,114,116,118,120,122,124,126,128,130,132,134,136,138,140,142,144,146,148,150,152,154,156,158,160,162,164,166,168,170,172,174,176,178,180,182,184,186,188,190,192,194,196,198,200,202,204,206,208,210,212,214,216,218,220],
      "format": "d", "labelExpr": "datum.value % 20 === 0 ? datum.label : ''",
      "domain": false, "ticks": false, "grid": true,
      "gridColor": {"condition": {"test": "datum.value % 20 === 0", "value": "#dddddd"}, "value": "#efefef"},
      "gridWidth": 1.5, "labelFontSize": 23, "labelColor": "#a3a3a3", "labelPadding": 9, "labelAlign": "left", "labelBaseline": "middle"}}
},
"layer": [
  {"mark": {"type": "line", "strokeWidth": 3, "strokeJoin": "round", "strokeCap": "round"},
   "encoding": {"color": {"field": "series", "type": "nominal",
     "scale": {"domain": ["Eigentumswohnungen", "Neubauhäuser", "Bestandshäuser", "Gesamtindex"], "range": ["#6bd5fa", "#0b7097", "#1ba3cf", "#023f66"]},
     "legend": {"title": null, "orient": "none", "legendX": 0, "legendY": -40, "direction": "horizontal", "padding": 0, "symbolType": "stroke", "symbolStrokeWidth": 4, "symbolSize": 900, "labelFontSize": 24, "labelColor": "#1f1f1f", "labelOffset": 2, "columnPadding": 17, "labelLimit": 400}}}},
  {"transform": [
     {"joinaggregate": [{"op": "min", "field": "date", "as": "d0"}, {"op": "max", "field": "date", "as": "d1"}], "groupby": ["series"]},
     {"filter": "time(datum.date) == time(datum.d0) || time(datum.date) == time(datum.d1)"}],
   "mark": {"type": "point", "shape": "square", "filled": true, "size": 150, "opacity": 1},
   "encoding": {"fill": {"field": "series", "type": "nominal",
     "scale": {"domain": ["Eigentumswohnungen", "Neubauhäuser", "Bestandshäuser", "Gesamtindex"], "range": ["#6bd5fa", "#0b7097", "#1ba3cf", "#023f66"]},
     "legend": null}}}
]
}
